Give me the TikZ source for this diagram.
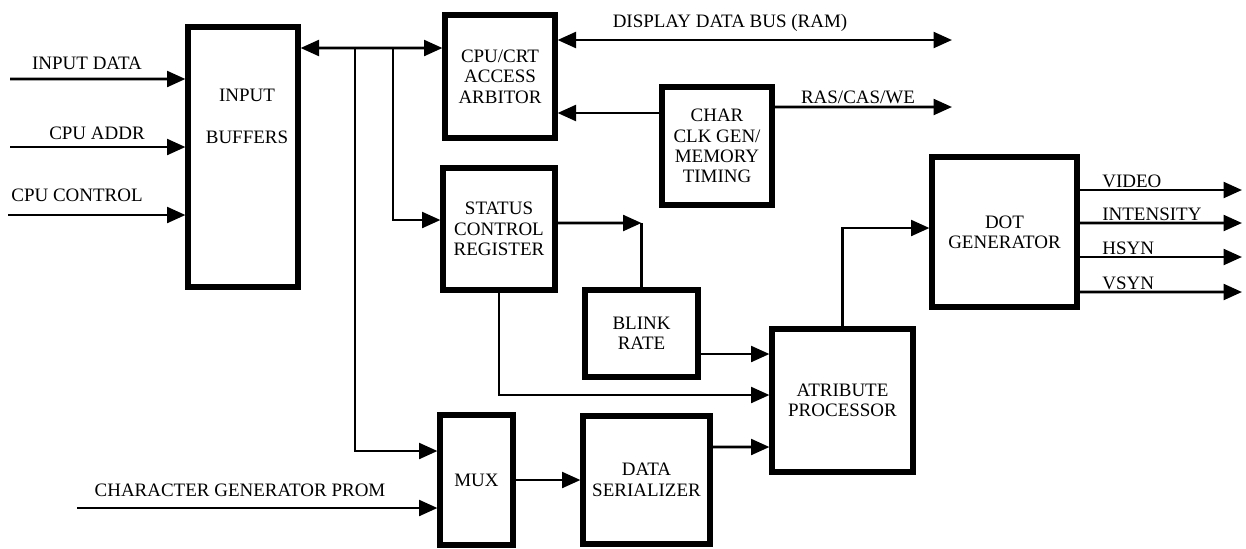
\documentclass[tikz,border=0pt]{standalone}
\usepackage{fontspec}
\setmainfont{Liberation Serif}
\usepackage{tikz}
\usetikzlibrary{arrows.meta}
\tikzset{
  crtbox/.style={draw, line width=2.9pt, inner sep=0pt, align=center, font=\fontsize{10.8}{11.6}\selectfont},
  crtsig/.style={line width=1.6pt},
  crtlabel/.style={font=\fontsize{10.8}{11.6}\selectfont, inner sep=0pt},
}

\begin{document}
\begin{tikzpicture}[>={Triangle[length=10.5pt,width=9pt]}]
      \useasboundingbox (0,0) rectangle (24.92,-10.96);

      \node[crtbox, minimum width=2.2cm, minimum height=5.2cm] (ibuf) at (4.86,-3.14) {};
      \node[crtlabel, align=center] (ibuftext) at (4.94,-2.33) {INPUT\\[12pt]BUFFERS};
      \node[crtbox, minimum width=2.2cm, minimum height=2.46cm] (arb) at (10.0,-1.53) {CPU/CRT\\ACCESS\\ARBITOR};
      \node[crtbox, minimum width=2.2cm, minimum height=2.36cm] (clk) at (14.34,-2.92) {CHAR\\CLK GEN/\\MEMORY\\TIMING};
      \node[crtbox, minimum width=2.24cm, minimum height=2.44cm] (scr) at (9.98,-4.58) {STATUS\\CONTROL\\REGISTER};
      \node[crtbox, minimum width=2.26cm, minimum height=1.74cm] (blink) at (12.83,-6.67) {BLINK\\RATE};
      \node[crtbox, minimum width=2.82cm, minimum height=2.86cm] (attr) at (16.85,-8.01) {ATRIBUTE\\PROCESSOR};
      \node[crtbox, minimum width=2.9cm, minimum height=3.0cm] (dot) at (20.09,-4.64) {DOT\\GENERATOR};
      \node[crtbox, minimum width=1.46cm, minimum height=2.6cm] (mux) at (9.53,-9.6) {MUX};
      \node[crtbox, minimum width=2.54cm, minimum height=2.56cm] (ser) at (12.93,-9.6) {DATA\\SERIALIZER};

      \coordinate (in1) at (0.2,-1.58);
      \coordinate (in2) at (0.2,-2.94);
      \coordinate (in3) at (0.16,-4.3);
      \coordinate (cgp) at (1.54,-10.16);
      \coordinate (tap1) at (7.1,-0.96);
      \coordinate (tap2) at (7.86,-0.96);
      \coordinate (ddb) at (19.04,-0.8);
      \coordinate (ras) at (19.04,-2.14);
      \coordinate (sbc) at (12.83,-4.46);
      \coordinate (video) at (24.84,-3.8);
      \coordinate (inten) at (24.84,-4.46);
      \coordinate (hsyn) at (24.84,-5.14);
      \coordinate (vsyn) at (24.84,-5.84);

      \draw[crtsig, ->] (in1) -- ([yshift=1.56cm]ibuf.west);
      \draw[crtsig, ->] (in2) -- ([yshift=0.2cm]ibuf.west);
      \draw[crtsig, ->] (in3) -- ([yshift=-1.16cm]ibuf.west);
      \draw[crtsig, ->] (cgp) -- ([yshift=-0.56cm]mux.west);

      \draw[crtsig, <->] ([yshift=2.18cm]ibuf.east) -- ([yshift=0.57cm]arb.west);
      \draw[crtsig, ->] (tap1) |- ([yshift=0.58cm]mux.west);
      \draw[crtsig, ->] (tap2) |- ([yshift=0.18cm]scr.west);

      \draw[crtsig, <->] ([yshift=0.73cm]arb.east) -- (ddb);
      \draw[crtsig, ->] ([yshift=0.66cm]clk.west) -- ([yshift=-0.73cm]arb.east);
      \draw[crtsig, ->] ([yshift=0.78cm]clk.east) -- (ras);

      \draw[crtsig, ->] ([yshift=0.12cm]scr.east) -- (sbc);
      \draw[crtsig] (sbc) -- (blink.north);
      \draw[crtsig, ->] (scr.south) |- ([yshift=0.11cm]attr.west);
      \draw[crtsig, ->] ([yshift=-0.41cm]blink.east) -- ([yshift=0.93cm]attr.west);
      \draw[crtsig, ->] ([yshift=0.66cm]ser.east) -- ([yshift=-0.93cm]attr.west);
      \draw[crtsig, ->] (mux.east) -- (ser.west);
      \draw[crtsig, ->] (attr.north) |- ([yshift=0.08cm]dot.west);

      \draw[crtsig, ->] ([yshift=0.84cm]dot.east) -- (video);
      \draw[crtsig, ->] ([yshift=0.18cm]dot.east) -- (inten);
      \draw[crtsig, ->] ([yshift=-0.5cm]dot.east) -- (hsyn);
      \draw[crtsig, ->] ([yshift=-1.2cm]dot.east) -- (vsyn);

      \node[crtlabel] (lin1) at (1.74,-1.26) {INPUT DATA};
      \node[crtlabel] (lin2) at (1.94,-2.66) {CPU ADDR};
      \node[crtlabel] (lin3) at (1.54,-3.9) {CPU CONTROL};
      \node[crtlabel] (lcgp) at (4.8,-9.8) {CHARACTER GENERATOR PROM};
      \node[crtlabel] (lddb) at (14.6,-0.46) {DISPLAY DATA BUS (RAM)};
      \node[crtlabel] (lras) at (17.16,-1.94) {RAS/CAS/WE};
      \node[crtlabel, anchor=base west] (lvideo) at (22.04,-3.75) {VIDEO};
      \node[crtlabel, anchor=base west] (linten) at (22.04,-4.41) {INTENSITY};
      \node[crtlabel, anchor=base west] (lhsyn) at (22.04,-5.09) {HSYN};
      \node[crtlabel, anchor=base west] (lvsyn) at (22.04,-5.79) {VSYN};
    \end{tikzpicture}
\end{document}
